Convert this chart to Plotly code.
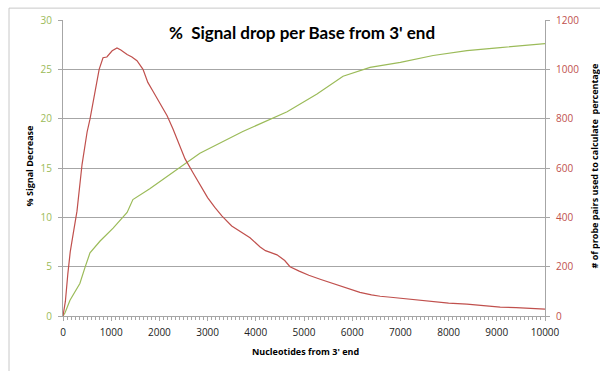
import plotly.graph_objects as go

# Distance from the 3' end (nucleotides)
signal_x = [0, 40, 145, 250, 350, 455, 500, 560, 770, 1040, 1330, 1450, 1800,
            2280, 2840, 3730, 4650, 5270, 5810, 6370, 7000, 7680, 8380, 9070, 10000]
# Cumulative % signal decrease
signal_pct = [0, 0.3, 1.6, 2.5, 3.3, 4.9, 5.6, 6.4, 7.6, 8.9, 10.5, 11.8, 12.9,
              14.6, 16.5, 18.7, 20.7, 22.5, 24.3, 25.2, 25.7, 26.4, 26.9, 27.2, 27.6]

probe_x = [0, 50, 100, 150, 200, 290, 395, 500, 560, 660, 750, 830, 910, 1020,
           1120, 1200, 1330, 1430, 1535, 1660, 1760, 1870, 1970, 2050, 2160,
           2280, 2400, 2530, 2700, 2840, 3000, 3150, 3300, 3500, 3700, 3880,
           4090, 4200, 4300, 4440, 4600, 4710, 4900, 5100, 5350, 5600, 5900,
           6160, 6400, 6580, 6800, 7000, 7300, 7680, 8000, 8380, 8700, 9070,
           9400, 9750, 10000]
# Number of probe pairs used for the percentage
probe_pairs = [0, 60, 170, 260, 320, 425, 614, 746, 798, 907, 1000, 1047, 1050,
               1075, 1087, 1078, 1060, 1050, 1035, 1000, 947, 910, 875, 845, 812,
               759, 700, 638, 580, 534, 480, 440, 405, 365, 340, 317, 280, 265,
               258, 248, 225, 200, 182, 165, 148, 132, 112, 96, 86, 80, 76, 72,
               64, 56, 52, 48, 42, 36, 34, 32, 28]

x_ticks = [0, 1000, 2000, 3000, 4000, 5000, 6000, 7000, 8000, 9000, 10000]
x_labels = [str(v) for v in x_ticks]

GREEN = "#9BBB59"
RED = "#C0504D"
GRID = "#a6a6a6"
FONT = "Open Sans"

W, H = 600, 371
L, R, T, B = 63, 545, 17, 316


def px(x):
    return (x - L) / (R - L)


def py(y):
    return (B - y) / (B - T)


fig = go.Figure()
fig.add_trace(go.Scatter(x=signal_x, y=signal_pct, mode="lines",
                         line=dict(color=GREEN, width=1.2), yaxis="y"))
fig.add_trace(go.Scatter(x=probe_x, y=probe_pairs, mode="lines",
                         line=dict(color=RED, width=1.2), yaxis="y2"))

fig.update_layout(
    width=W, height=H,
    margin=dict(l=L, r=W - R, t=T, b=H - B),
    paper_bgcolor="white", plot_bgcolor="white",
    showlegend=False,
    font=dict(family=FONT, size=10, color="#222"),
    xaxis=dict(range=[0, 10000], tickvals=x_ticks, ticktext=x_labels,
               showgrid=False,
               zeroline=False, showline=True, linecolor=GRID, linewidth=1,
               ticks="outside", ticklen=4, tickcolor=GRID,
               ticklabelstandoff=3,
               minor=dict(dtick=10000 / 120, ticks="outside", ticklen=3,
                          tickcolor=GRID, showgrid=False),
               tickfont=dict(size=10, color="#222")),
    yaxis=dict(range=[0, 30], dtick=5, showgrid=True, gridcolor=GRID,
               gridwidth=1, zeroline=False, showline=True, linecolor=GRID,
               ticks="outside", ticklen=4, tickcolor=GRID,
               ticklabelstandoff=4,
               tickfont=dict(size=10, color=GREEN)),
    yaxis2=dict(range=[0, 1200], dtick=200, overlaying="y", side="right",
                showgrid=False, zeroline=False, showline=True, linecolor=GRID,
                ticks="outside", ticklen=4, tickcolor=GRID,
                ticklabelstandoff=4,
                tickfont=dict(size=10, color=RED)),
)


def label(text, x, y, size, angle=0, family=FONT):
    fig.add_annotation(text=text, textangle=angle, x=px(x), y=py(y),
                       xref="paper", yref="paper", xanchor="center",
                       yanchor="middle", showarrow=False,
                       font=dict(family=family, size=size, color="black"))


# Title and axis titles
label("<b>%  Signal drop per Base from 3' end</b>", 302, 30, 17, family="Lato")
label("<b>% Signal Decrease</b>", 30, 165, 9, angle=-90)
label("<b># of probe pairs used to calculate  percentage</b>", 595, 165, 9,
      angle=-90)
label("<b>Nucleotides from 3' end</b>", 305, 352, 9)

# Chart frame
fig.add_shape(type="rect", xref="paper", yref="paper",
              x0=px(9), x1=px(620), y0=py(390), y1=py(5),
              line=dict(color="#c8c8c8", width=1), layer="below")

fig.write_html("out.html")
